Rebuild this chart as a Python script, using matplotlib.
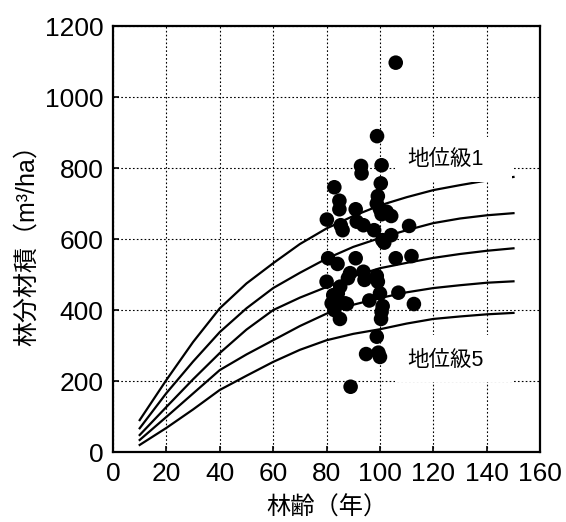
import numpy as np
import matplotlib
matplotlib.use("Agg")
import matplotlib.pyplot as plt
from matplotlib.patches import Rectangle

plt.rcParams['font.family'] = ['Liberation Sans', 'Noto Sans CJK JP']

# 林齢 (年) — 収穫表の曲線
ages = [10, 20, 30, 40, 50, 60, 70, 80, 90, 100, 110, 120, 130, 140, 150]
si1 = [90, 203, 310, 405, 475, 532, 586, 630, 665, 695, 718, 738, 752, 765, 775]
si2 = [67, 166, 255, 338, 405, 462, 505, 545, 578, 603, 625, 645, 658, 667, 673]
si3 = [48, 127, 205, 279, 345, 400, 435, 465, 495, 518, 533, 547, 558, 567, 574]
si4 = [34, 99, 165, 231, 275, 315, 355, 390, 415, 434, 450, 462, 470, 477, 481]
si5 = [20, 68, 120, 175, 215, 254, 288, 315, 333, 346, 362, 375, 382, 388, 392]

# 調査林分 (林齢, 林分材積)
obs_age = [105.9, 98.9, 100.6, 92.9, 93.1, 100.3, 82.9, 99.2, 84.8, 84.8,
           90.9, 98.8, 100.0, 102.5, 104.2, 100.6, 80.1, 91.3, 93.8, 85.3,
           86.0, 97.8, 110.9, 104.2, 100.9, 101.6, 80.6, 84.1, 90.9, 105.9,
           111.8, 80.0, 88.8, 93.8, 94.2, 98.8, 99.2, 85.1, 84.2, 83.2,
           87.6, 96.0, 100.0, 106.9, 101.0, 112.7, 100.6, 82.9, 85.0, 100.4,
           98.8, 94.8, 100.0, 99.4, 89.0, 81.9, 86.9, 82.5, 88.0]
obs_vol = [1097, 890, 808, 806, 785, 757, 746, 721, 708, 684,
           684, 700, 684, 677, 665, 670, 655, 649, 639, 639,
           625, 625, 637, 611, 597, 590, 546, 530, 546, 546,
           552, 480, 504, 508, 485, 496, 480, 466, 447, 428,
           417, 427, 447, 449, 411, 417, 395, 400, 375, 375,
           325, 276, 268, 280, 184, 419, 419, 442, 490]

fig = plt.figure(figsize=(5.66, 5.22), dpi=100)
ax = fig.add_axes([0.1996, 0.134, 0.7548, 0.816])

ax.set_axisbelow(True)
ax.grid(True, color="black", linestyle=(0, (1.5, 2)), linewidth=0.8)

for ys in (si1, si2, si3, si4, si5):
    ax.plot(ages, ys, color="black", lw=1.6, zorder=3)

ax.scatter(obs_age, obs_vol, s=110, color="black", edgecolors="none", zorder=4)

# ラベル背景の白抜き
ax.add_patch(Rectangle((105.6, 760), 43.8, 127, facecolor="white", edgecolor="none", zorder=5))
ax.add_patch(Rectangle((105.6, 197), 43.8, 133, facecolor="white", edgecolor="none", zorder=5))
ax.text(110.1, 825, "地位級1", fontsize=15.5, va="center", ha="left", zorder=6)
ax.text(110.1, 259, "地位級5", fontsize=15.5, va="center", ha="left", zorder=6)

ax.set_xlim(0, 160)
ax.set_ylim(0, 1200)
ax.set_xticks(np.arange(0, 161, 20))
ax.set_yticks(np.arange(0, 1201, 200))
ax.tick_params(direction="in", length=4, width=1.2, labelsize=19, pad=7)
for sp in ax.spines.values():
    sp.set_linewidth(1.6)

ax.set_xlabel("林齢（年）", fontsize=17.5, labelpad=8)
ax.set_ylabel("林分材積（m³/ha）", fontsize=18, labelpad=4)

fig.savefig("out.png", dpi=100)
